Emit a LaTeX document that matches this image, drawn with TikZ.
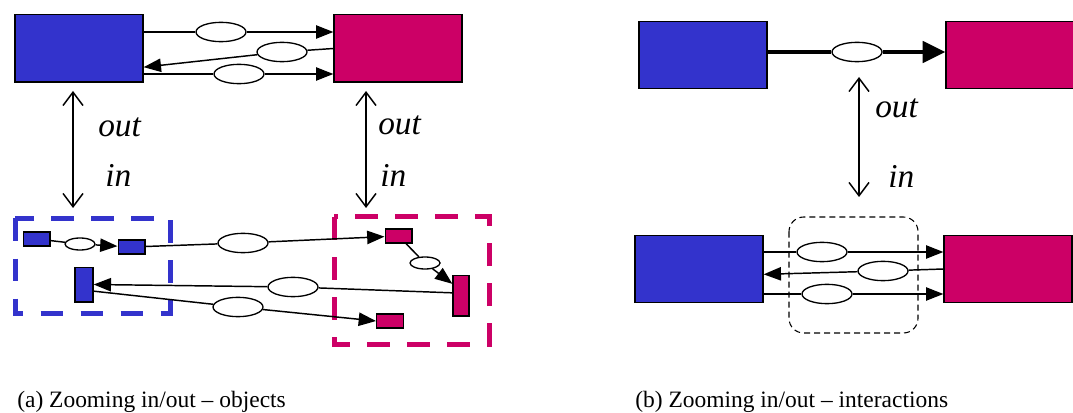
\documentclass[tikz,border=0pt]{standalone}
\usepackage{fontspec}
\setmainfont{Liberation Serif}
\usetikzlibrary{arrows.meta,shapes.geometric}
\definecolor{objblue}{RGB}{51,51,204}
\definecolor{objmag}{RGB}{204,0,102}
\tikzset{
    bigbox/.style={draw=black,line width=1pt,minimum width=96pt,minimum height=50.5pt,inner sep=0pt},
    smallbox/.style={draw=black,line width=1pt,minimum width=20pt,minimum height=10.5pt,inner sep=0pt},
    msg/.style={ellipse,draw,fill=white,line width=1pt,minimum width=37.5pt,minimum height=14.5pt,inner sep=0pt},
    smallmsg/.style={msg,minimum width=22.5pt,minimum height=9pt},
    link/.style={line width=1.1pt},
    flow/.style={link,arrows={-Triangle[length=13pt,width=10pt]}},
    zoomarrow/.style={line width=1.1pt,arrows={Straight Barb[length=10pt,width=15pt]-Straight Barb[length=10pt,width=15pt]}},
    lbl/.style={inner sep=0pt,anchor=base west,font=\fontsize{25}{30}\selectfont\itshape},
    objframe/.style={line width=3.75pt,dash pattern=on 17pt off 13pt},
    caption/.style={anchor=base west,inner sep=0pt,font=\fontsize{17.6}{21}\selectfont},
}
\begin{document}
\begin{tikzpicture}[x=0.75pt,y=-0.75pt]
    \useasboundingbox (0,0) rectangle (1073,413);
    % (a) objects
    \node[bigbox,fill=objblue] (objA) at (79,48.5) {};
    \node[bigbox,fill=objmag] (objB) at (398,48.5) {};
    \node[msg] (a1) at (221,32) {};
    \node[msg] (a2) at (282,52) {};
    \node[msg] (a3) at (239,74) {};
    \draw[link] (objA.east |- a1) -- (a1); \draw[flow] (a1) -- (objB.west |- a1);
    \draw[link] (objB.west) -- (a2);       \draw[flow] (a2) -- ([yshift=-14pt]objA.east);
    \draw[link] (objA.east |- a3) -- (a3); \draw[flow] (a3) -- (objB.west |- a3);

    \coordinate (upA) at (73,91);  \coordinate (dnA) at (73,208);
    \coordinate (upB) at (366,91); \coordinate (dnB) at (366,208);
    \draw[zoomarrow] (upA) -- (dnA);
    \draw[zoomarrow] (upB) -- (dnB);
    \node[lbl] (outA) at (98,137) {out};  \node[lbl] (inA) at (105,187) {in};
    \node[lbl] (outB) at (378,135) {out}; \node[lbl] (inB) at (380,187) {in};

    \draw[objframe,objblue] (15,218.5) rectangle (170,313);
    \draw[objframe,objmag] (334,217) rectangle (489,344);
    \node[smallbox,fill=objblue] (s1) at (36.5,239) {};
    \node[smallbox,fill=objblue] (s2) at (131.5,247) {};
    \node[smallbox,fill=objblue,minimum width=13.5pt,minimum height=26pt] (s3) at (84,284.5) {};
    \node[smallbox,fill=objmag] (m1) at (398.5,236) {};
    \node[smallbox,fill=objmag,minimum width=12pt,minimum height=30.5pt] (m2) at (461,295.5) {};
    \node[smallbox,fill=objmag] (m3) at (390,321) {};
    \node[smallmsg] (e1) at (80,244) {};
    \node[msg] (e2) at (243,243) {};
    \node[smallmsg] (e3) at (425,263) {};
    \node[msg] (e4) at (293,287) {};
    \node[msg] (e5) at (238,307) {};
    \draw[link] (s1) -- (e1); \draw[flow] (e1) -- (s2);
    \draw[link] (s2) -- (e2); \draw[flow] (e2) -- (m1);
    \draw[link] (m1) -- (e3); \draw[flow] (e3) -- ([yshift=-7pt]m2.north west);
    \draw[link] ([yshift=2pt]m2.west) -- (e4); \draw[flow] (e4) -- (s3.east);
    \draw[link] ([yshift=-5pt]s3.east) -- (e5); \draw[flow] (e5) -- (m3.west);

    % (b) interactions
    \node[bigbox,fill=objblue] (intA) at (703,55) {};
    \node[bigbox,fill=objmag] (intB) at (1010,55) {};
    \node[msg] (c0) at (857,52) {};
    \draw[line width=3pt] (intA.east |- c0) -- (c0);
    \draw[line width=3pt,arrows={-Triangle[length=17pt,width=16pt]}] (c0) -- (intB.west |- c0);

    \coordinate (upC) at (859,77); \coordinate (dnC) at (859,197);
    \draw[zoomarrow] (upC) -- (dnC);
    \node[lbl] (outC) at (875,118) {out}; \node[lbl] (inC) at (888,188) {in};

    \draw[line width=0.8pt,dash pattern=on 4.5pt off 3pt,rounded corners=11pt] (789,217) rectangle (918,333);
    \node[bigbox,fill=objblue] (intC) at (699,269) {};
    \node[bigbox,fill=objmag] (intD) at (1008,269) {};
    \node[msg] (c1) at (822,252) {};
    \node[msg] (c2) at (883,271) {};
    \node[msg] (c3) at (827,294) {};
    \draw[link] (intC.east |- c1) -- (c1); \draw[flow] (c1) -- (intD.west |- c1);
    \draw[link] (intD.west) -- (c2);       \draw[flow] (c2) -- ([yshift=-4pt]intC.east);
    \draw[link] (intC.east |- c3) -- (c3); \draw[flow] (c3) -- (intD.west |- c3);

    \node[caption] (capA) at (17,407) {(a) Zooming in/out -- objects};
    \node[caption] (capB) at (635,407) {(b) Zooming in/out -- interactions};
\end{tikzpicture}
\end{document}
